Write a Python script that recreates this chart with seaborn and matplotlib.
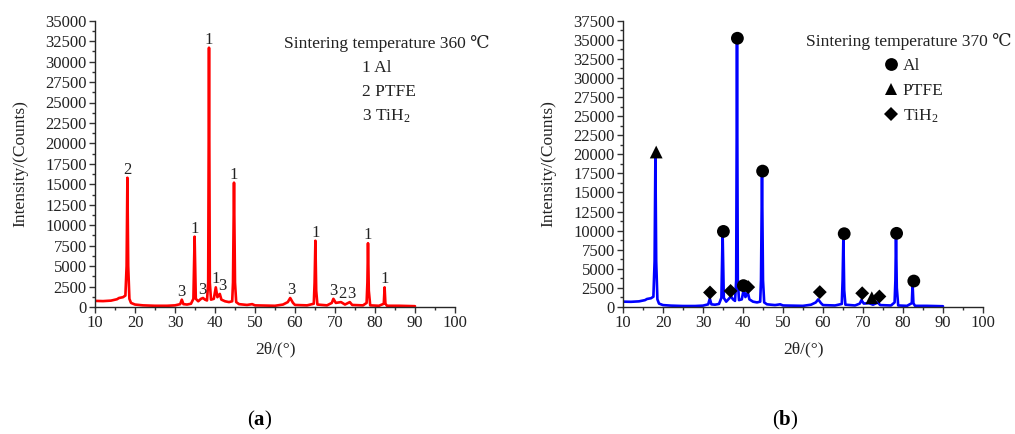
import numpy as np
import pandas as pd
import matplotlib
matplotlib.use("Agg")
import matplotlib.pyplot as plt
from matplotlib.ticker import MultipleLocator, AutoMinorLocator
import seaborn as sns

# ---------------- data ----------------
# (a) 360 C pattern: vertices
x_a = [10, 12, 14, 15.5, 16, 17, 17.6, 17.9, 18.1, 18.3, 18.6, 19, 20, 22, 25, 28, 30,
       31.3, 31.7, 32.1, 33, 34, 34.6, 34.9, 35.2, 35.8, 36.5, 37, 37.5, 38, 38.3, 38.5,
       38.7, 39, 39.7, 40.2, 40.6, 41.2, 41.6, 42.5, 43.5, 44.3, 44.5, 44.75, 45, 45.3,
       46, 48, 49.3, 50, 55, 57, 58.2, 58.8, 59.5, 60, 63, 64.7, 64.9, 65.1, 65.3, 65.6,
       68, 69.2, 69.6, 70.2, 71.5, 72.5, 73.7, 74.3, 77, 77.9, 78.1, 78.25, 78.45, 78.8,
       81, 82.2, 82.4, 82.6, 83, 86, 90]
y_a = [750, 720, 780, 950, 1100, 1200, 1400, 5000, 15800, 5000, 1000, 500, 300, 200, 150, 150, 200,
       350, 900, 350, 300, 400, 1000, 8600, 1000, 700, 1000, 1100, 900, 800, 3000, 31700,
       3000, 900, 1000, 2400, 1200, 1600, 900, 700, 600, 700, 3000, 15200, 3000, 600,
       350, 250, 350, 200, 150, 300, 600, 1100, 500, 250, 200, 400, 3000, 8100, 2000, 300,
       200, 500, 1000, 500, 600, 300, 600, 250, 200, 500, 3000, 7800, 2000, 200,
       150, 400, 2400, 400, 150, 150, 100]

# (b) 370 C pattern
x_b = x_a
y_b = [700, 680, 740, 900, 1050, 1150, 1350, 6000, 20000, 6000, 1000, 450, 250, 180, 130, 130, 180,
       350, 1100, 350, 300, 400, 1200, 9800, 1200, 700, 1100, 1400, 1000, 800, 3500, 35000,
       3500, 900, 1000, 2400, 1300, 1900, 1000, 700, 600, 700, 3500, 17600, 3500, 600,
       350, 250, 350, 200, 150, 300, 600, 1000, 500, 250, 200, 400, 3500, 9400, 2200, 300,
       200, 450, 900, 450, 500, 300, 600, 250, 200, 600, 3500, 9500, 2500, 200,
       150, 500, 3000, 500, 150, 150, 100]

# peak labels for (a)
lab_a_x = [18.1, 31.6, 34.9, 36.8, 38.5, 40.2, 41.8, 44.75, 59.1, 65.1, 69.6, 71.9, 74.0, 78.25, 82.4]
lab_a_y = [15800, 900, 8600, 1100, 31700, 2400, 1600, 15200, 1100, 8100, 1000, 600, 600, 7800, 2400]
lab_a_t = ["2", "3", "1", "3", "1", "1", "3", "1", "3", "1", "3", "2", "3", "1", "1"]

# phase markers for (b)
mk_b_x = [18.3, 31.75, 35.1, 36.9, 38.6, 40.1, 41.3, 44.9, 59.2, 65.3, 69.8, 72.2, 74.1, 78.4, 82.7]
mk_b_y = [20300, 1900, 9900, 2100, 35200, 2800, 2600, 17800, 1950, 9600, 1800, 1220, 1380, 9650, 3400]
mk_b_p = ["PTFE", "TiH$_2$", "Al", "TiH$_2$", "Al", "Al", "TiH$_2$", "Al", "TiH$_2$", "Al",
          "TiH$_2$", "PTFE", "TiH$_2$", "Al", "Al"]

phases = ["Al", "PTFE", "TiH$_2$"]
legend_a = ["1 Al", "2 PTFE", "3 TiH$_2$"]

# ---------------- style ----------------
sns.set_style("ticks")
FAM = ["Liberation Serif", "DejaVu Serif"]
plt.rcParams["font.family"] = FAM
plt.rcParams["mathtext.fontset"] = "custom"
plt.rcParams["mathtext.rm"] = "Liberation Serif"
plt.rcParams["mathtext.it"] = "Liberation Serif:italic"
plt.rcParams["mathtext.bf"] = "Liberation Serif:bold"
plt.rcParams["axes.linewidth"] = 1.0
plt.rcParams["text.color"] = "#222222"

FS = 12
TC = "#222222"

fig = plt.figure(figsize=(10.15, 4.34), dpi=100)
ax1 = fig.add_axes([95 / 1015, 1 - 307 / 434, 360 / 1015, 286.3 / 434])
ax2 = fig.add_axes([623 / 1015, 1 - 307 / 434, 360 / 1015, 286.3 / 434])

df_a = pd.DataFrame({"x": x_a, "y": y_a})
df_b = pd.DataFrame({"x": x_b, "y": y_b})
sns.lineplot(data=df_a, x="x", y="y", ax=ax1, color="#ff0000", lw=1.9, sort=False)
sns.lineplot(data=df_b, x="x", y="y", ax=ax2, color="#0000ff", lw=1.9, sort=False)

df_m = pd.DataFrame({"x": mk_b_x, "y": mk_b_y, "phase": mk_b_p})
sns.scatterplot(data=df_m, x="x", y="y", style="phase", style_order=phases,
                markers={"Al": "o", "PTFE": "^", "TiH$_2$": "D"},
                size="phase", sizes={"Al": 85, "PTFE": 85, "TiH$_2$": 50},
                size_order=phases,
                color="black", edgecolor="black", linewidth=0,
                ax=ax2, zorder=5, legend=True)

for ax, ymax in [(ax1, 35000), (ax2, 37500)]:
    ax.set_xlim(10, 100)
    ax.set_ylim(0, ymax)
    ax.xaxis.set_major_locator(MultipleLocator(10))
    ax.xaxis.set_minor_locator(AutoMinorLocator(2))
    ax.yaxis.set_major_locator(MultipleLocator(2500))
    ax.yaxis.set_minor_locator(AutoMinorLocator(2))
    ax.tick_params(which="major", direction="out", length=4, width=1, labelsize=FS,
                   colors="#333333", labelcolor=TC, pad=2)
    ax.tick_params(which="minor", direction="out", length=2.5, width=1, colors="#333333")
    ax.set_xlabel("2θ/(°)", fontsize=FS + 0.5, labelpad=7, color=TC)
    ax.set_ylabel("Intensity/(Counts)", fontsize=FS + 0.5, labelpad=12, color=TC)
    sns.despine(ax=ax)

# (a) annotations
for xx, yy, tt in zip(lab_a_x, lab_a_y, lab_a_t):
    ax1.text(xx, yy, tt, ha="center", va="bottom", fontsize=FS)
ax1.text(0.525, 0.919, "Sintering temperature 360 ℃", transform=ax1.transAxes,
         fontsize=FS + 0.5, va="center", ha="left")
for i, t in enumerate(legend_a):
    ax1.text(0.742, 0.835 - i * 0.084, t, transform=ax1.transAxes,
             fontsize=FS + 0.5, va="center", ha="left")

# (b) annotations
ax2.text(0.508, 0.926, "Sintering temperature 370 ℃", transform=ax2.transAxes,
         fontsize=FS + 0.5, va="center", ha="left")
sns.move_legend(ax2, "upper left", bbox_to_anchor=(0.70, 0.895), frameon=False,
                title=None, fontsize=FS + 0.5, handletextpad=0.2, labelspacing=0.5,
                borderaxespad=0, handlelength=1.0)

fig.text(260 / 1015, 1 - 420 / 434, r"$\mathrm{(}\mathbf{a}\mathrm{)}$", ha="center",
         va="center", fontsize=15, color="black")
fig.text(785 / 1015, 1 - 420 / 434, r"$\mathrm{(}\mathbf{b}\mathrm{)}$", ha="center",
         va="center", fontsize=15, color="black")

fig.savefig("out.png", dpi=100)
